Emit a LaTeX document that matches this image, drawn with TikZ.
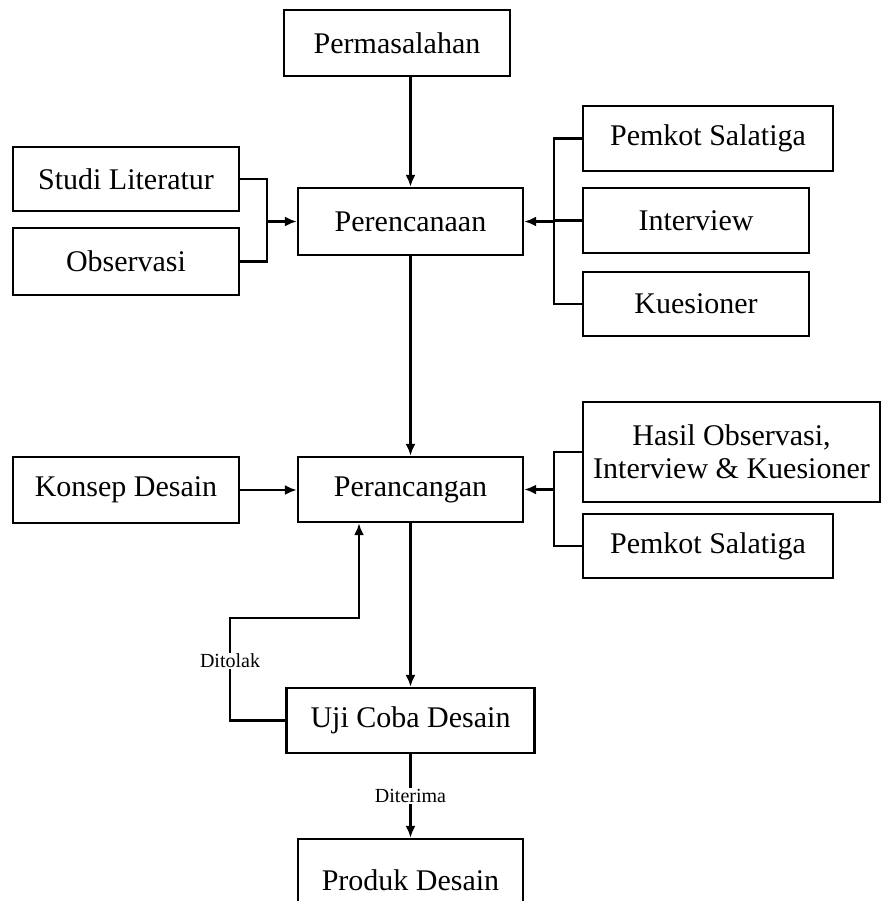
\documentclass[tikz,border=0pt]{standalone}
\usepackage{fontspec}
\setmainfont{Liberation Serif}
\usepackage{tikz}
\usetikzlibrary{
arrows.meta,
positioning,
calc
}

\begin{document}
\begin{tikzpicture}[
  x=1pt, y=-1pt,
  >={Latex[length=12pt,width=10pt]},
  every node/.style={font=\fontsize{30}{33}\selectfont},
  kotak/.style={draw, line width=2.4pt, inner sep=0pt, align=center},
  garis/.style={line width=2.4pt},
  ket/.style={font=\fontsize{20}{22}\selectfont, fill=white, inner sep=1pt}
]

%% Canvas
\useasboundingbox (0,0) rectangle (883,901);
\clip (0,0) rectangle (883,901);

%% ── PERENCANAAN ─────────────────────────────────────────────
\node[kotak, minimum width=226pt, minimum height=66pt] (masalah) at (397,43)
  {Permasalahan};
\node[kotak, minimum width=225pt, minimum height=67pt] (rencana) at (410.5,221.5)
  {Perencanaan};

\node[kotak, minimum width=226pt, minimum height=64pt] (studi) at (126,179)
  {Studi Literatur};
\node[kotak, minimum width=226pt, minimum height=67pt] (observasi) at (126,261.5)
  {Observasi};

\node[kotak, minimum width=250pt, minimum height=65pt] (pemkotA) at (708,138.5)
  {Pemkot Salatiga};
\node[kotak, minimum width=226pt, minimum height=65pt] (interview) at (696,220.5)
  {Interview};
\node[kotak, minimum width=226pt, minimum height=64pt] (kuesioner) at (696,304)
  {Kuesioner};

%% Connectors
\draw[garis, ->] (rencana.north |- masalah.south) -- (rencana.north);

\coordinate (kiri) at ($(rencana.west)+(-30,0)$);
\draw[garis] (studi.east) -| (kiri) |- (observasi.east);
\draw[garis, ->] (kiri) -- (rencana.west);

\coordinate (kanan) at ($(rencana.east)+(30,0)$);
\draw[garis] (pemkotA.west) -| (kanan) |- (kuesioner.west);
\draw[garis] (interview.west) -- (kanan |- interview.west);
\draw[garis, ->] (kanan) -- (rencana.east);

%% ── PERANCANGAN ─────────────────────────────────────────────
\node[kotak, minimum width=225pt, minimum height=65pt] (rancang) at (410.5,489.5)
  {Perancangan};
\node[kotak, minimum width=226pt, minimum height=66pt] (konsep) at (126,490)
  {Konsep Desain};
\node[kotak, minimum width=297pt, minimum height=100pt] (hasil) at (731.5,452)
  {Hasil Observasi,\\Interview \& Kuesioner};
\node[kotak, minimum width=250pt, minimum height=64pt] (pemkotB) at (708,546)
  {Pemkot Salatiga};

%% Connectors
\draw[garis, ->] (rencana.south) -- (rancang.north);
\draw[garis, ->] (konsep.east) -- (konsep.east -| rancang.west);

\coordinate (kanan2) at ($(rancang.east)+(30,0)$);
\draw[garis] (hasil.west) -| (kanan2) |- (pemkotB.west);
\draw[garis, ->] (kanan2) -- (rancang.east);

%% ── UJI COBA ────────────────────────────────────────────────
\node[kotak, minimum width=248pt, minimum height=65pt] (uji) at (410.5,720.5)
  {Uji Coba Desain};
\node[kotak, minimum width=225pt, minimum height=82pt] (produk) at (410.5,880)
  {Produk Desain};

\draw[garis, ->] (rancang.south) -- (uji.north);

\coordinate (tolak) at (230,618);
\coordinate (balik) at ($(rancang.south)+(-51.5,0)$);
\draw[garis, ->] (uji.west) -| node[ket, pos=0.79] {Ditolak} (tolak) -| (balik);

\draw[garis, ->] (uji.south) -- node[ket] {Diterima} (produk.north);

\end{tikzpicture}
\end{document}
